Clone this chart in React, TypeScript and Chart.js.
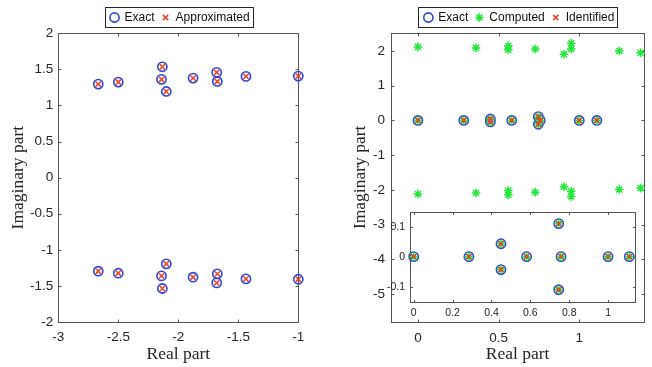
import React, { useEffect, useRef } from 'react';
import { Chart, registerables } from 'chart.js';

Chart.register(...registerables);

// ---------------- Left panel data ----------------
const leftExactRe = [-2.667, -2.5, -2.133, -2.14, -2.1, -1.877, -1.68, -1.675, -1.436, -1.0,
  -2.667, -2.5, -2.133, -2.14, -2.1, -1.877, -1.68, -1.675, -1.436, -1.0];
const leftExactIm = [1.296, 1.324, 1.536, 1.361, 1.194, 1.379, 1.458, 1.333, 1.403, 1.407,
  -1.296, -1.324, -1.536, -1.361, -1.194, -1.379, -1.458, -1.333, -1.403, -1.407];
const leftApproxRe = [-2.667, -2.5, -2.133, -2.14, -2.1, -1.877, -1.68, -1.675, -1.436, -1.0,
  -2.667, -2.5, -2.133, -2.14, -2.1, -1.877, -1.68, -1.675, -1.436, -1.0];
const leftApproxIm = [1.296, 1.324, 1.536, 1.361, 1.194, 1.379, 1.458, 1.333, 1.403, 1.407,
  -1.296, -1.324, -1.536, -1.361, -1.194, -1.379, -1.458, -1.333, -1.403, -1.407];

const leftXTickValues = [-3, -2.5, -2, -1.5, -1];
const leftXTickLabels = ['-3', '-2.5', '-2', '-1.5', '-1'];
const leftYTickValues = [-2, -1.5, -1, -0.5, 0, 0.5, 1, 1.5, 2];
const leftYTickLabels = ['-2', '-1.5', '-1', '-0.5', '0', '0.5', '1', '1.5', '2'];
const leftLegendLabels = ['Exact', 'Approximated'];

// ---------------- Right panel data ----------------
const rightExactRe = [0, 0.284, 0.449, 0.449, 0.581, 0.746, 0.746, 0.758, 1.0, 1.109];
const rightExactIm = [0, 0, 0.043, -0.043, 0, 0.11, -0.11, 0, 0, 0];
const rightIdentifiedRe = [0, 0.284, 0.449, 0.449, 0.581, 0.746, 0.746, 0.758, 1.0, 1.109];
const rightIdentifiedIm = [0, 0, 0.043, -0.043, 0, 0.11, -0.11, 0, 0, 0];
const rightComputedRe = [0, 0.284, 0.449, 0.449, 0.581, 0.746, 0.746, 0.758, 1.0, 1.109,
  0.0, 0.36, 0.56, 0.56, 0.727, 0.905, 0.95, 0.95, 1.248, 1.38,
  0.0, 0.36, 0.56, 0.56, 0.727, 0.905, 0.95, 0.95, 1.248, 1.38];
const rightComputedIm = [0, 0, 0.043, -0.043, 0, 0.11, -0.11, 0, 0, 0,
  2.12, 2.09, 2.15, 2.04, 2.06, 1.91, 2.22, 2.06, 2.0, 1.95,
  -2.12, -2.09, -2.02, -2.15, -2.07, -1.91, -2.04, -2.19, -1.99, -1.95];

const rightXTickValues = [0, 0.5, 1];
const rightXTickLabels = ['0', '0.5', '1'];
const rightYTickValues = [-5, -4, -3, -2, -1, 0, 1, 2];
const rightYTickLabels = ['-5', '-4', '-3', '-2', '-1', '0', '1', '2'];
const rightLegendLabels = ['Exact', 'Computed', 'Identified'];

const insetXTickValues = [0, 0.2, 0.4, 0.6, 0.8, 1];
const insetXTickLabels = ['0', '0.2', '0.4', '0.6', '0.8', '1'];
const insetYTickValues = [-0.1, 0, 0.1];
const insetYTickLabels = ['-0.1', '0', '0.1'];

const xAxisTitle = 'Real part';
const yAxisTitle = 'Imaginary part';

// ---------------- styling ----------------
const BLUE = '#2a45d8';
const RED = '#e8412c';
const GREEN = '#22e83a';
const AXIS = '#555555';
const TEXT = '#262626';
const SANS = "'Liberation Sans', Arial, Helvetica, sans-serif";
const SERIF = "'Liberation Serif', 'Times New Roman', serif";

const pts = (re: number[], im: number[]) => re.map((x, i) => ({ x, y: im[i] }));

type Marker = 'circle' | 'crossRot' | 'star';

function drawMarker(ctx: CanvasRenderingContext2D, style: Marker, x: number, y: number, color: string) {
  ctx.save();
  ctx.strokeStyle = color;
  ctx.lineWidth = style === 'circle' ? 1.6 : 1.5;
  ctx.beginPath();
  if (style === 'circle') {
    ctx.arc(x, y, 4.6, 0, Math.PI * 2);
  } else if (style === 'crossRot') {
    const d = 2.6;
    ctx.moveTo(x - d, y - d); ctx.lineTo(x + d, y + d);
    ctx.moveTo(x - d, y + d); ctx.lineTo(x + d, y - d);
  } else {
    const r = 4.2;
    const d = r * 0.7071;
    ctx.moveTo(x, y - r); ctx.lineTo(x, y + r);
    ctx.moveTo(x - r, y); ctx.lineTo(x + r, y);
    ctx.moveTo(x - d, y - d); ctx.lineTo(x + d, y + d);
    ctx.moveTo(x - d, y + d); ctx.lineTo(x + d, y - d);
  }
  ctx.stroke();
  ctx.restore();
}

interface BoxCfg {
  tickLength: number;
  fill?: string;
  legend?: { labels: string[]; markers: Marker[]; colors: string[] };
}

function makeBoxPlugin(cfg: BoxCfg) {
  return {
    id: 'matlabBox',
    beforeDatasetsDraw(chart: any) {
      const { ctx, chartArea: a } = chart;
      const l = Math.round(a.left) + 0.5;
      const r = Math.round(a.right) + 0.5;
      const t = Math.round(a.top) + 0.5;
      const b = Math.round(a.bottom) + 0.5;
      ctx.save();
      if (cfg.fill) {
        ctx.fillStyle = cfg.fill;
        ctx.fillRect(l, t, r - l, b - t);
      }
      ctx.strokeStyle = AXIS;
      ctx.lineWidth = 1;
      ctx.strokeRect(l, t, r - l, b - t);
      const tl = cfg.tickLength;
      ctx.beginPath();
      const xs = chart.scales.x;
      const ys = chart.scales.y;
      xs.ticks.forEach((tk: any) => {
        const p = Math.round(xs.getPixelForValue(tk.value)) + 0.5;
        ctx.moveTo(p, b); ctx.lineTo(p, b - tl);
        ctx.moveTo(p, t); ctx.lineTo(p, t + tl);
      });
      ys.ticks.forEach((tk: any) => {
        const p = Math.round(ys.getPixelForValue(tk.value)) + 0.5;
        ctx.moveTo(l, p); ctx.lineTo(l + tl, p);
        ctx.moveTo(r, p); ctx.lineTo(r - tl, p);
      });
      ctx.stroke();
      ctx.restore();
    },
    afterDraw(chart: any) {
      if (!cfg.legend) return;
      const { ctx, chartArea: a } = chart;
      const { labels, markers, colors } = cfg.legend;
      ctx.save();
      ctx.font = `12px ${SANS}`;
      const widths = labels.map((s) => ctx.measureText(s).width);
      const padL = 10, symToText = 10, gap = 11, padR = 2.5;
      let total = padL + padR + gap * (labels.length - 1);
      widths.forEach((w) => { total += symToText + w; });
      const cx = (a.left + a.right) / 2;
      const left = cx - total / 2;
      const top = 7.5, h = 20;
      const midY = top + h / 2;
      ctx.fillStyle = '#ffffff';
      ctx.fillRect(left, top, total, h);
      ctx.strokeStyle = '#262626';
      ctx.lineWidth = 1;
      ctx.strokeRect(Math.round(left) + 0.5, top, Math.round(total), h);
      let x = left + padL;
      ctx.textBaseline = 'middle';
      ctx.textAlign = 'left';
      labels.forEach((s, i) => {
        drawMarker(ctx, markers[i], x, midY, colors[i]);
        ctx.fillStyle = '#111111';
        ctx.fillText(s, x + symToText, midY + 0.5);
        x += symToText + widths[i] + gap;
      });
      ctx.restore();
    },
  };
}

interface ScaleSpec {
  min: number; max: number; values: number[]; labels: string[];
  size: number; fontSize: number; padding: number; title?: string; titlePad?: any;
}

function xScale(s: ScaleSpec) {
  return {
    type: 'linear', position: 'bottom', min: s.min, max: s.max,
    afterBuildTicks: (sc: any) => { sc.ticks = s.values.map((v) => ({ value: v })); },
    afterFit: (sc: any) => { sc.height = s.size; },
    grid: { display: false, drawTicks: false },
    border: { display: false },
    ticks: {
      autoSkip: false, maxRotation: 0, minRotation: 0, padding: s.padding,
      color: TEXT, font: { family: SANS, size: s.fontSize },
      callback: (_v: any, i: number) => s.labels[i],
    },
    title: s.title
      ? { display: true, text: s.title, color: TEXT, font: { family: SERIF, size: 17.5 }, padding: s.titlePad }
      : { display: false },
  };
}

function yScale(s: ScaleSpec) {
  return {
    type: 'linear', position: 'left', min: s.min, max: s.max,
    afterBuildTicks: (sc: any) => { sc.ticks = s.values.map((v) => ({ value: v })); },
    afterFit: (sc: any) => { sc.width = s.size; },
    grid: { display: false, drawTicks: false },
    border: { display: false },
    ticks: {
      autoSkip: false, padding: s.padding,
      color: TEXT, font: { family: SANS, size: s.fontSize },
      callback: (_v: any, i: number) => s.labels[i],
    },
    title: s.title
      ? { display: true, text: s.title, color: TEXT, font: { family: SERIF, size: 17.5 }, padding: s.titlePad }
      : { display: false },
  };
}

const exactDs = (data: any[]) => ({
  label: 'Exact', data, pointStyle: 'circle', pointRadius: 4.6, pointHoverRadius: 4.6,
  borderColor: BLUE, pointBorderColor: BLUE, backgroundColor: 'rgba(0,0,0,0)',
  pointBackgroundColor: 'rgba(0,0,0,0)', pointBorderWidth: 1.6, showLine: false, clip: false, order: 3,
});
const crossDs = (label: string, data: any[]) => ({
  label, data, pointStyle: 'crossRot', pointRadius: 3.8, pointHoverRadius: 3.8,
  borderColor: RED, pointBorderColor: RED, backgroundColor: RED,
  pointBorderWidth: 1.5, showLine: false, clip: false, order: 1,
});
const starDs = (data: any[]) => ({
  label: 'Computed', data, pointStyle: 'star', pointRadius: 4.3, pointHoverRadius: 4.3,
  borderColor: GREEN, pointBorderColor: GREEN, backgroundColor: GREEN,
  pointBorderWidth: 1.5, showLine: false, clip: false, order: 2,
});

function baseOptions(scales: any, padding: any) {
  return {
    responsive: false,
    maintainAspectRatio: false,
    devicePixelRatio: 1,
    animation: false,
    events: [],
    layout: { padding },
    plugins: { legend: { display: false }, tooltip: { enabled: false }, title: { display: false } },
    scales,
  };
}

function leftConfig(): any {
  return {
    type: 'scatter',
    data: {
      datasets: [
        exactDs(pts(leftExactRe, leftExactIm)),
        crossDs('Approximated', pts(leftApproxRe, leftApproxIm)),
      ],
    },
    options: baseOptions(
      {
        x: xScale({ min: -3, max: -1, values: leftXTickValues, labels: leftXTickLabels, size: 45,
          fontSize: 13.5, padding: 7, title: xAxisTitle, titlePad: { top: 0, bottom: 2 } }),
        y: yScale({ min: -2, max: 2, values: leftYTickValues, labels: leftYTickLabels, size: 58.3,
          fontSize: 13.5, padding: 5, title: yAxisTitle, titlePad: { top: 7.6, bottom: 0 } }),
      },
      { left: 0, top: 33.3, right: 27.7, bottom: 0 },
    ),
    plugins: [makeBoxPlugin({
      tickLength: 3,
      legend: { labels: leftLegendLabels, markers: ['circle', 'crossRot'], colors: [BLUE, RED] },
    })],
  };
}

function rightConfig(): any {
  return {
    type: 'scatter',
    data: {
      datasets: [
        exactDs(pts(rightExactRe, rightExactIm)),
        starDs(pts(rightComputedRe, rightComputedIm)),
        crossDs('Identified', pts(rightIdentifiedRe, rightIdentifiedIm)),
      ],
    },
    options: baseOptions(
      {
        x: xScale({ min: -0.167, max: 1.403, values: rightXTickValues, labels: rightXTickLabels, size: 45.3,
          fontSize: 13.5, padding: 8.5, title: xAxisTitle, titlePad: { top: 0, bottom: 2 } }),
        y: yScale({ min: -5.8, max: 2.52, values: rightYTickValues, labels: rightYTickLabels, size: 65,
          fontSize: 13.5, padding: 6, title: yAxisTitle, titlePad: { top: 23.5, bottom: 0 } }),
      },
      { left: 0, top: 33, right: 7.7, bottom: 0 },
    ),
    plugins: [makeBoxPlugin({
      tickLength: 3,
      legend: { labels: rightLegendLabels, markers: ['circle', 'star', 'crossRot'], colors: [BLUE, GREEN, RED] },
    })],
  };
}

function insetConfig(): any {
  return {
    type: 'scatter',
    data: {
      datasets: [
        exactDs(pts(rightExactRe, rightExactIm)),
        starDs(pts(rightComputedRe, rightComputedIm)),
        crossDs('Identified', pts(rightIdentifiedRe, rightIdentifiedIm)),
      ],
    },
    options: baseOptions(
      {
        x: { ...xScale({ min: -0.0175, max: 1.14, values: insetXTickValues, labels: insetXTickLabels, size: 23.3,
          fontSize: 10.5, padding: 5 }) },
        y: { ...yScale({ min: -0.15, max: 0.15, values: insetYTickValues, labels: insetYTickLabels, size: 30.3,
          fontSize: 10.5, padding: 5.3 }) },
      },
      { left: 0, top: 8.3, right: 6.7, bottom: 0 },
    ),
    plugins: [makeBoxPlugin({ tickLength: 2.5, fill: '#ffffff' })],
  };
}

function ChartCanvas(props: { make: () => any; left: number; top: number; width: number; height: number }) {
  const ref = useRef<HTMLCanvasElement | null>(null);
  useEffect(() => {
    if (!ref.current) return;
    const chart = new Chart(ref.current, props.make());
    return () => chart.destroy();
  }, []);
  return (
    <canvas
      ref={ref}
      width={props.width}
      height={props.height}
      style={{ position: 'absolute', left: props.left, top: props.top, width: props.width, height: props.height }}
    />
  );
}

export default function App() {
  return (
    <div style={{ position: 'fixed', left: 0, top: 0, width: 652, height: 367, background: '#ffffff', overflow: 'hidden' }}>
      <ChartCanvas make={leftConfig} left={0} top={0} width={326} height={367} />
      <ChartCanvas make={rightConfig} left={326} top={0} width={326} height={367} />
      <ChartCanvas make={insetConfig} left={380} top={200} width={262} height={125} />
    </div>
  );
}
